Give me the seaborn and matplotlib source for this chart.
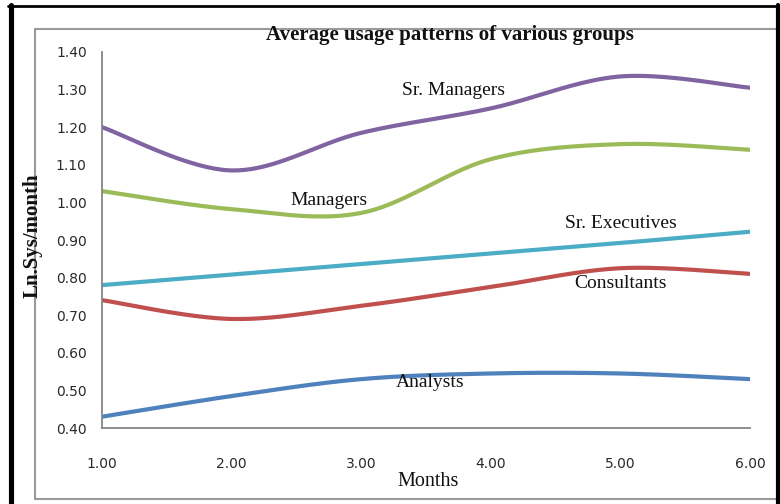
import numpy as np
import pandas as pd
import matplotlib
matplotlib.use("Agg")
import matplotlib.pyplot as plt
from matplotlib.lines import Line2D
import seaborn as sns

# ---- data ----
months = [1.0, 2.0, 3.0, 4.0, 5.0, 6.0]
sr_managers = [1.20, 1.085, 1.185, 1.25, 1.335, 1.305]
managers = [1.03, 0.982, 0.972, 1.115, 1.155, 1.14]
sr_executives = [0.78, 0.808, 0.836, 0.864, 0.892, 0.922]
consultants = [0.74, 0.69, 0.725, 0.775, 0.825, 0.81]
analysts = [0.43, 0.485, 0.53, 0.545, 0.545, 0.53]
group_names = ["Sr. Managers", "Managers", "Sr. Executives", "Consultants", "Analysts"]
x_ticks = [1.0, 2.0, 3.0, 4.0, 5.0, 6.0]
y_ticks = [0.40, 0.50, 0.60, 0.70, 0.80, 0.90, 1.00, 1.10, 1.20, 1.30, 1.40]
title = "Average usage patterns of various groups"
x_label = "Months"
y_label = "Ln.Sys/month"

series = [sr_managers, managers, sr_executives, consultants, analysts]
colors = ["#8064A2", "#9BBB59", "#4BACC6", "#C0504D", "#4F81BD"]


def excel_smooth(x, y, n=40):
    """Excel-style smoothed line (Bezier through the points)."""
    pts = np.column_stack([x, y]).astype(float)
    out = []
    for i in range(len(pts) - 1):
        p0 = pts[i - 1] if i > 0 else pts[i]
        p1, p2 = pts[i], pts[i + 1]
        p3 = pts[i + 2] if i + 2 < len(pts) else pts[i + 1]
        c1 = p1 + (p2 - p0) / 6.0
        c2 = p2 - (p3 - p1) / 6.0
        t = np.linspace(0, 1, n)[:, None]
        seg = (1 - t) ** 3 * p1 + 3 * (1 - t) ** 2 * t * c1 + 3 * (1 - t) * t ** 2 * c2 + t ** 3 * p2
        out.append(seg if i == 0 else seg[1:])
    return np.vstack(out)


sns.set_style("white")
plt.rcParams["font.family"] = ["DejaVu Sans"]

W, H = 780, 504
fig = plt.figure(figsize=(W / 100, H / 100), dpi=100)
ax = fig.add_axes([102 / W, 1 - 428 / H, (750 - 102) / W, (428 - 52) / H])

for name, vals, col in zip(group_names, series, colors):
    sm = excel_smooth(months, vals)
    df = pd.DataFrame({"Month": sm[:, 0], "Value": sm[:, 1]})
    sns.lineplot(data=df, x="Month", y="Value", ax=ax, color=col, linewidth=3.0,
                 sort=False, estimator=None, solid_capstyle="round")

ax.set_xlim(1.0, 6.0)
ax.set_ylim(0.40, 1.40)
ax.set_xticks(x_ticks)
ax.set_yticks(y_ticks)
ax.set_xticklabels([f"{v:.2f}" for v in x_ticks])
ax.set_yticklabels([f"{v:.2f}" for v in y_ticks])
ax.tick_params(axis="x", direction="out", length=6, width=1.1, color="#868686",
               pad=15, labelsize=10, labelcolor="#2a2a2a")
ax.tick_params(axis="y", direction="out", length=5, width=1.1, color="#868686",
               pad=6, labelsize=10, labelcolor="#2a2a2a")
for s in ["top", "right"]:
    ax.spines[s].set_visible(False)
for s in ["left", "bottom"]:
    ax.spines[s].set_color("#868686")
    ax.spines[s].set_linewidth(1.3)
ax.set_xlabel("")
ax.set_ylabel("")
ax.patch.set_alpha(0)

serif = ["Liberation Serif", "DejaVu Serif"]

# inline series labels
label_pos = [(3.71, 1.298), (2.75, 1.005), (5.0, 0.945), (5.0, 0.783), (3.53, 0.522)]
for name, (lx, ly) in zip(group_names, label_pos):
    ax.text(lx, ly, name, ha="center", va="center", fontsize=14, family=serif,
            color="#111111")

# title, axis labels
fig.text(450 / W, 1 - 35 / H, title, ha="center", va="center", fontsize=15,
         fontweight="bold", family=serif, color="#111111")
fig.text(428 / W, 1 - 482 / H, x_label, ha="center", va="center", fontsize=14.5,
         family=serif, color="#111111")
fig.text(33 / W, 1 - 236 / H, y_label, ha="center", va="center", fontsize=15,
         fontweight="bold", rotation=90, family=serif, color="#111111")


def fx(px):
    return px / W


def fy(py):
    return 1 - py / H


# grey chart-area frame
grey = "#9a9a9a"
fig.add_artist(Line2D([fx(35), fx(35)], [fy(29), fy(499)], color=grey, lw=1.5))
fig.add_artist(Line2D([fx(35), fx(777)], [fy(29), fy(29)], color=grey, lw=1.5))
fig.add_artist(Line2D([fx(35), fx(777)], [fy(499), fy(499)], color=grey, lw=1.5))

# black outer border
fig.add_artist(Line2D([fx(10.5), fx(10.5)], [fy(5), fy(504)], color="black", lw=3.7))
fig.add_artist(Line2D([fx(8), fx(780)], [fy(6), fy(6)], color="black", lw=2.0))
fig.add_artist(Line2D([fx(778), fx(778)], [fy(5), fy(504)], color="black", lw=3.0))

fig.savefig("out.png", dpi=100)
